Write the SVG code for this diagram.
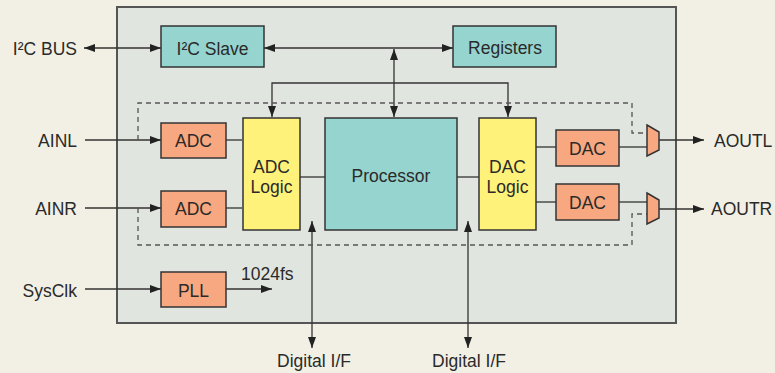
<svg xmlns="http://www.w3.org/2000/svg" width="775" height="373" viewBox="0 0 775 373">
<style>
text{font-family:"Liberation Sans",Arial,sans-serif;font-size:17.5px;fill:#2a2a2a}
.c{text-anchor:middle}
.e{text-anchor:end}
.box{stroke:#333;stroke-width:1.5}
.teal{fill:#95d4cf}
.org{fill:#f7a880}
.yel{fill:#fff27a}
.ln{fill:none;stroke:#333;stroke-width:1.3}
.dash{fill:none;stroke:#555;stroke-width:1.3;stroke-dasharray:5,4}
</style>
<defs>
<marker id="ah" viewBox="0 0 11 8" refX="11" refY="4" markerWidth="11" markerHeight="8" markerUnits="userSpaceOnUse" orient="auto-start-reverse">
<path d="M0,0 L11,4 L0,8 z" fill="#222"/>
</marker>
</defs>
<rect width="775" height="373" fill="#f2f0e4"/>
<rect id="chip" x="117" y="7" width="559" height="316" fill="#e1e5e0" stroke="#555" stroke-width="2"/>

<g id="connectors">
<line class="ln" x1="84" y1="48" x2="161" y2="48" marker-start="url(#ah)" marker-end="url(#ah)"/>
<line class="ln" x1="264" y1="48" x2="453" y2="48" marker-start="url(#ah)" marker-end="url(#ah)"/>
<line class="ln" x1="394" y1="49" x2="394" y2="117" marker-start="url(#ah)" marker-end="url(#ah)"/>
<path class="ln" d="M272,117 V83 H508 V117" marker-start="url(#ah)" marker-end="url(#ah)"/>
<line class="ln" x1="85" y1="140" x2="161" y2="140" marker-end="url(#ah)"/>
<line class="ln" x1="85" y1="208" x2="161" y2="208" marker-end="url(#ah)"/>
<line class="ln" x1="226" y1="140" x2="242" y2="140"/>
<line class="ln" x1="226" y1="208" x2="242" y2="208"/>
<line class="ln" x1="300" y1="177" x2="325" y2="177"/>
<line class="ln" x1="457" y1="177" x2="479" y2="177"/>
<line class="ln" x1="536" y1="147" x2="556" y2="147"/>
<line class="ln" x1="536" y1="202" x2="556" y2="202"/>
<line class="ln" x1="619" y1="147" x2="647" y2="147"/>
<line class="ln" x1="619" y1="202" x2="647" y2="202"/>
<line class="ln" x1="659" y1="140" x2="704" y2="140" marker-end="url(#ah)"/>
<line class="ln" x1="659" y1="209" x2="704" y2="209" marker-end="url(#ah)"/>
<line class="ln" x1="85" y1="289" x2="161" y2="289" marker-end="url(#ah)"/>
<line class="ln" x1="226" y1="289" x2="272" y2="289" marker-end="url(#ah)"/>
<line class="ln" x1="312" y1="221" x2="312" y2="348" marker-start="url(#ah)" marker-end="url(#ah)"/>
<line class="ln" x1="468" y1="221" x2="468" y2="348" marker-start="url(#ah)" marker-end="url(#ah)"/>
<path class="dash" d="M138,140 V103 H632 V133 H647"/>
<path class="dash" d="M138,208 V245 H632 V214 H647"/>
</g>

<g id="i2c-slave"><rect class="box teal" x="161" y="26" width="103" height="41"/><text class="c" x="212.5" y="55">I²C Slave</text></g>
<g id="registers"><rect class="box teal" x="453" y="26" width="103" height="41"/><text class="c" x="505" y="54">Registers</text></g>
<g id="adc-l"><rect class="box org" x="161" y="123" width="65" height="35"/><text class="c" x="193.5" y="147">ADC</text></g>
<g id="adc-r"><rect class="box org" x="161" y="191" width="65" height="36"/><text class="c" x="193.5" y="215">ADC</text></g>
<g id="adc-logic"><rect class="box yel" x="243" y="118" width="57" height="112"/><text class="c" x="271.5" y="173">ADC</text><text class="c" x="271.5" y="193">Logic</text></g>
<g id="processor"><rect class="box teal" x="325" y="118" width="132" height="112"/><text class="c" x="391" y="182">Processor</text></g>
<g id="dac-logic"><rect class="box yel" x="479" y="118" width="57" height="112"/><text class="c" x="507.5" y="173">DAC</text><text class="c" x="507.5" y="193">Logic</text></g>
<g id="dac-l"><rect class="box org" x="556" y="130" width="63" height="36"/><text class="c" x="587.5" y="155">DAC</text></g>
<g id="dac-r"><rect class="box org" x="556" y="184" width="63" height="36"/><text class="c" x="587.5" y="209">DAC</text></g>
<g id="mux-l"><polygon class="box org" points="647,125 659,132 659,150 647,156"/></g>
<g id="mux-r"><polygon class="box org" points="647,193 659,200 659,218 647,224"/></g>
<g id="pll"><rect class="box org" x="161" y="272" width="65" height="35"/><text class="c" x="193.5" y="297">PLL</text></g>

<g id="labels">
<text class="e" x="77" y="55">I²C BUS</text>
<text class="e" x="77" y="147">AINL</text>
<text class="e" x="77" y="215">AINR</text>
<text class="e" x="77" y="297">SysClk</text>
<text x="241" y="280">1024fs</text>
<text x="714" y="147">AOUTL</text>
<text x="711" y="215">AOUTR</text>
<text class="c" x="314" y="367">Digital I/F</text>
<text class="c" x="469" y="367">Digital I/F</text>
</g>
</svg>
